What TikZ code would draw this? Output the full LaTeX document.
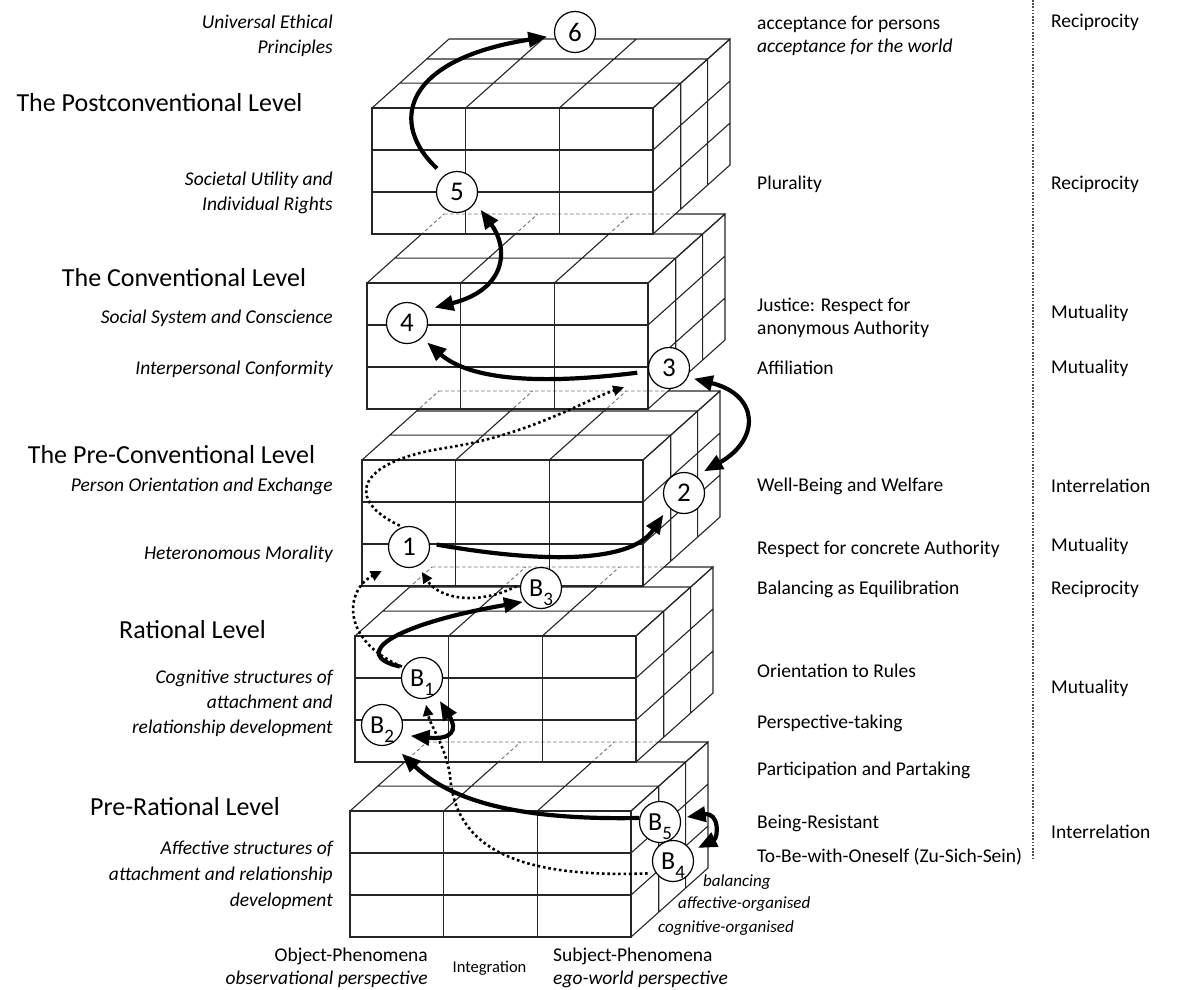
\documentclass[tikz,border=0pt]{standalone}
\usepackage{fontspec}
\setmainfont{Carlito}
\usetikzlibrary{arrows.meta}

% one cuboid in local coordinates: front face 281 x 126, depth vector (77,-69)
\newcommand\cubefront{%
  \draw[gridline] (0,0) rectangle (281,126);
  \draw[gridline] (93.67,0) -- (93.67,126) (187.33,0) -- (187.33,126)
                  (0,42) -- (281,42) (0,84) -- (281,84);}
\newcommand\cubetop[1]{%
  \draw[#1] (0,0) -- ++(77,-69) (93.67,0) -- ++(77,-69) (187.33,0) -- ++(77,-69) (281,0) -- ++(77,-69)
            (27.72,-24.84) -- ++(281,0) (54.67,-48.99) -- ++(281,0) (77,-69) -- ++(281,0);}
\newcommand\cuberight{%
  \draw[gridline] (281,0) -- ++(77,-69) -- ++(0,126) -- ++(-77,69)
                  (308.72,-24.84) -- ++(0,126) (335.67,-48.99) -- ++(0,126)
                  (281,42) -- ++(77,-69) (281,84) -- ++(77,-69);}
\newcommand\cubeshape{(0,0) -- (77,-69) -- (358,-69) -- (358,57) -- (281,126) -- (0,126) -- cycle}
\newcommand\cubesolid{\cubefront\cubetop{gridline}\cuberight}
% an upper cuboid at #1 covering the one below it, which lies at offset #2
\newcommand\cubeover[2]{%
  \begin{scope}[shift={#1}]
    \fill[white] \cubeshape;
    \begin{scope}
      \clip \cubeshape;
      \begin{scope}[shift={#2}]\cubetop{hidden}\end{scope}
    \end{scope}
    \cubesolid
  \end{scope}}
% stage label B with an index hanging below the baseline
\newcommand\bidx[1]{B\smash{\raisebox{-0.75ex}{\fontsize{19}{19}\selectfont #1}}}

\begin{document}
\begin{tikzpicture}[x=1pt,y=-1pt,
  gridline/.style={line width=1.1pt, black!85},
  hidden/.style={line width=0.9pt, black!55, dash pattern=on 3.5pt off 2.5pt},
  stage/.style={circle, draw, line width=1.2pt, fill=white, minimum size=41pt, inner sep=0pt,
                font=\fontsize{27}{27}\selectfont},
  bstage/.style={stage, font=\fontsize{26}{26}\selectfont},
  lab/.style={font=\fontsize{19.5}{23}\selectfont, inner sep=0pt},
  ilab/.style={lab, font=\fontsize{19.5}{23}\selectfont\itshape},
  head/.style={font=\fontsize{26}{30}\selectfont, inner sep=0pt, anchor=base},
  small/.style={font=\fontsize{17}{20}\selectfont\itshape, inner sep=0pt, anchor=base west},
  heavy/.style={line width=4.2pt, -{Triangle[length=19pt,width=15pt]}},
  heavyboth/.style={line width=4.2pt, {Triangle[length=19pt,width=15pt]}-{Triangle[length=19pt,width=15pt]}},
  dots/.style={line width=2.6pt, dash pattern=on 2.6pt off 2.8pt, -{Triangle[length=11pt,width=10pt]}},
  sepline/.style={line width=1.1pt, black!70, dash pattern=on 1.6pt off 1.6pt}]

\useasboundingbox (0,0) rectangle (1179,990);

% ---- stacked cuboids, bottom first ----
\begin{scope}[shift={(350,811)}]\cubesolid\end{scope}
\cubeover{(355,636)}{(-5,175)}
\cubeover{(362,460)}{(-7,176)}
\cubeover{(367,283)}{(-5,177)}
\cubeover{(372,108)}{(-5,175)}

% ---- separator ----
\coordinate (sepTop) at (1033,0);
\coordinate (sepBot) at (1033,860);
\draw[sepline] (sepTop) -- (sepBot);

% ---- stages ----
\node[stage] (n6) at (575,32) {6};
\node[stage] (n5) at (457,192) {5};
\node[stage] (n4) at (407,323) {4};
\node[stage] (n3) at (669,368) {3};
\node[stage] (n2) at (684,493) {2};
\node[stage] (n1) at (409,547) {1};
\node[bstage] (b3) at (541,588) {\bidx{3}};
\node[bstage] (b1) at (422,678) {\bidx{1}};
\node[bstage] (b2) at (382,725) {\bidx{2}};
\node[bstage] (b5) at (660,822) {\bidx{5}};
\node[bstage] (b4) at (673,861) {\bidx{4}};

% ---- dotted transitions ----
\draw[dots, shorten <=3pt, shorten >=28pt] (n1.108) .. controls (345,500) and (355,462) .. (445,448)
      .. controls (530,435) and (585,400) .. (n3.210);
\draw[dots, shorten <=4pt, shorten >=7pt] (b3.170) .. controls (480,605) and (440,600) .. (n1.-65);
\draw[dots, shorten <=2pt, shorten >=16pt] (b1.150) .. controls (340,640) and (345,590) .. (n1.232);
\draw[dots, shorten <=8pt, shorten >=6pt] (b4.215) .. controls (520,878) and (455,850) .. (450,775)
      .. controls (445,745) and (430,725) .. (b1.-82);

% ---- solid transitions ----
\draw[heavy, shorten <=10pt, shorten >=7pt] (n5.127) .. controls (390,125) and (400,60) .. (n6.190);
\draw[heavyboth, shorten <=9pt, shorten >=11pt] (n5.-30) .. controls (510,250) and (505,290) .. (n4.37);
\draw[heavy, shorten <=11pt, shorten >=7pt] (n3.189) .. controls (540,385) and (470,380) .. (n4.-45);
\draw[heavyboth, shorten <=6pt, shorten >=9pt] (n3.-26) .. controls (760,395) and (760,440) .. (n2.55);
\draw[heavy, shorten <=7pt, shorten >=9pt] (n1.10) .. controls (535,562) and (630,565) .. (n2.222);
\draw[heavy, shorten <=4pt, shorten >=2pt] (b1.150) .. controls (350,655) and (390,625) .. (b3.220);
\draw[heavyboth, shorten <=8pt, shorten >=10pt] (b1.-50) .. controls (458,730) and (452,740) .. (b2.-28);
\draw[heavy, shorten >=14pt] (b5.169) .. controls (530,820) and (455,805) .. (b2.-63);
\draw[heavyboth, shorten <=6pt, shorten >=7pt] (b5.11) .. controls (720,812) and (718,838) .. (b4.28);

% ---- level headings ----
\node[head] (hPost) at (159.5,111.5) {The Postconventional Level};
\node[head] (hConv) at (184,286.5) {The Conventional Level};
\node[head] (hPre) at (171.5,463.5) {The Pre-Conventional Level};
\node[head] (hRat) at (192.5,638.5) {Rational Level};
\node[head] (hPreRat) at (185,815.5) {Pre-Rational Level};

% ---- stage descriptions (left) ----
\node[ilab, anchor=base east] (l6a) at (333,28.5) {Universal Ethical};
\node[ilab, anchor=base east] (l6b) at (333,53.5) {Principles};
\node[ilab, anchor=base east] (l5a) at (333,185.5) {Societal Utility and};
\node[ilab, anchor=base east] (l5b) at (333,210.5) {Individual Rights};
\node[ilab, anchor=base east] (l4) at (333,323.5) {Social System and Conscience};
\node[ilab, anchor=base east] (l3) at (333,374.5) {Interpersonal Conformity};
\node[ilab, anchor=base east] (l2) at (333,491.5) {Person Orientation and Exchange};
\node[ilab, anchor=base east] (l1) at (333,559.5) {Heteronomous Morality};
\node[ilab, anchor=base east] (lRa) at (333,683.5) {Cognitive structures of};
\node[ilab, anchor=base east] (lRb) at (333,708.5) {attachment and};
\node[ilab, anchor=base east] (lRc) at (333,733.5) {relationship development};
\node[ilab, anchor=base east] (lPa) at (333,854.5) {Affective structures of};
\node[ilab, anchor=base east] (lPb) at (333,880.5) {attachment and relationship};
\node[ilab, anchor=base east] (lPc) at (333,906.5) {development};

% ---- qualities (right) ----
\node[lab, anchor=base west] (r6a) at (757,29.5) {acceptance for persons};
\node[ilab, anchor=base west] (r6b) at (757,52.5) {acceptance for the world};
\node[lab, anchor=base west] (r5) at (757,189.5) {Plurality};
\node[lab, anchor=base west] (r4a) at (757,311.5) {Justice: Respect for};
\node[lab, anchor=base west] (r4b) at (757,334.5) {anonymous Authority};
\node[lab, anchor=base west] (r3) at (757,374.5) {Affiliation};
\node[lab, anchor=base west] (r2) at (757,491.5) {Well-Being and Welfare};
\node[lab, anchor=base west] (r1) at (757,554.5) {Respect for concrete Authority};
\node[lab, anchor=base west] (rB3) at (757,594.5) {Balancing as Equilibration};
\node[lab, anchor=base west] (rB1) at (757,677.5) {Orientation to Rules};
\node[lab, anchor=base west] (rB2) at (757,728.5) {Perspective-taking};
\node[lab, anchor=base west] (rPP) at (757,775.5) {Participation and Partaking};
\node[lab, anchor=base west] (rB5) at (757,828.5) {Being-Resistant};
\node[lab, anchor=base west] (rB4) at (757,862.5) {To-Be-with-Oneself (Zu-Sich-Sein)};

% ---- relation types ----
\node[lab, anchor=base west] (t1) at (1051,27.5) {Reciprocity};
\node[lab, anchor=base west] (t2) at (1051,189.5) {Reciprocity};
\node[lab, anchor=base west] (t3) at (1051,318.5) {Mutuality};
\node[lab, anchor=base west] (t4) at (1051,373.5) {Mutuality};
\node[lab, anchor=base west] (t5) at (1051,492.5) {Interrelation};
\node[lab, anchor=base west] (t6) at (1051,551.5) {Mutuality};
\node[lab, anchor=base west] (t7) at (1051,594.5) {Reciprocity};
\node[lab, anchor=base west] (t8) at (1051,693.5) {Mutuality};
\node[lab, anchor=base west] (t9) at (1051,838.5) {Interrelation};

% ---- depth axis labels ----
\node[small] (dBal) at (703,886.5) {balancing};
\node[small] (dAff) at (678,908.5) {affective-organised};
\node[small] (dCog) at (658,932.5) {cognitive-organised};

% ---- width axis labels ----
\node[lab, anchor=base east] (ax1a) at (428,961.5) {Object-Phenomena};
\node[ilab, anchor=base east] (ax1b) at (428,984.5) {observational perspective};
\node[font=\fontsize{16.5}{20}\selectfont, inner sep=0pt, anchor=base] (ax2) at (489.5,972.5) {Integration};
\node[lab, anchor=base west] (ax3a) at (553,961.5) {Subject-Phenomena};
\node[ilab, anchor=base west] (ax3b) at (553,984.5) {ego-world perspective};
\end{tikzpicture}
\end{document}
